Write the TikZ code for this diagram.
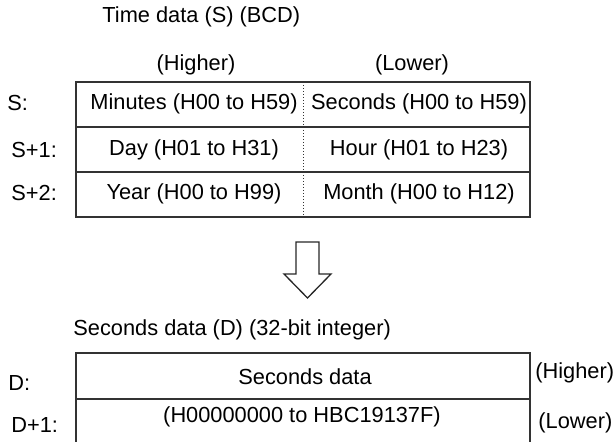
\documentclass[tikz,border=0pt]{standalone}
\usepackage{fontspec}
\setmainfont{Liberation Sans}
\usetikzlibrary{positioning}

\begin{document}
\begin{tikzpicture}[
    x=0.5pt, y=-0.5pt,
    font=\fontsize{10.9}{13}\selectfont,
    rowbox/.style={draw=black!80, line width=0.75pt, minimum width=227pt, minimum height=22.5pt, inner sep=0pt, outer sep=0pt},
    lowbox/.style={rowbox, minimum height=23pt},
    lbl/.style={anchor=west, inner sep=0pt},
    txt/.style={inner sep=0pt},
]

% Page size (reference is 616 x 442 px)
\useasboundingbox (0,0) rectangle (616,442);

% Time data (S)
\node[lbl] (ttl1) at (102,17) {Time data (S) (BCD)};
\node[txt] (hi1) at (196,65) {(Higher)};
\node[txt] (lo1) at (412,65) {(Lower)};

\node[rowbox] (s0) at (303,104.5) {};
\node[rowbox, below=0pt of s0] (s1) {};
\node[rowbox, below=0pt of s1] (s2) {};
\draw[densely dotted, line width=0.5pt, black!80] (s0.north) -- (s2.south);

\node[lbl] (ls0) at (7,103) {S:};
\node[lbl] (ls1) at (11,150) {S+1:};
\node[lbl] (ls2) at (11,193) {S+2:};

\node[txt] at (194,104) {Minutes (H00 to H59)};
\node[txt] at (419,104) {Seconds (H00 to H59)};
\node[txt] at (194,150) {Day (H01 to H31)};
\node[txt] at (419,150) {Hour (H01 to H23)};
\node[txt] at (194,194) {Year (H00 to H99)};
\node[txt] at (419,194) {Month (H00 to H12)};

% Hollow arrow
\draw[black!85, line width=0.65pt, line join=miter]
    (296,242) -- (319,242) -- (319,274) -- (331,274) -- (307.5,298)
    -- (284,274) -- (296,274) -- cycle;

% Seconds data (D)
\node[lbl] (ttl2) at (73,330) {Seconds data (D) (32-bit integer)};

\node[lowbox] (d0) at (303,376) {};
\node[lowbox, below=0pt of d0] (d1) {};

\node[lbl] (ld0) at (8,383) {D:};
\node[lbl] (ld1) at (11,425) {D+1:};

\node[txt] at (305,377) {Seconds data};
\node[txt] at (302,417) {(H00000000 to HBC19137F)};

\node[lbl] (hi2) at (535,373) {(Higher)};
\node[lbl] (lo2) at (538,423) {(Lower)};

\end{tikzpicture}
\end{document}
